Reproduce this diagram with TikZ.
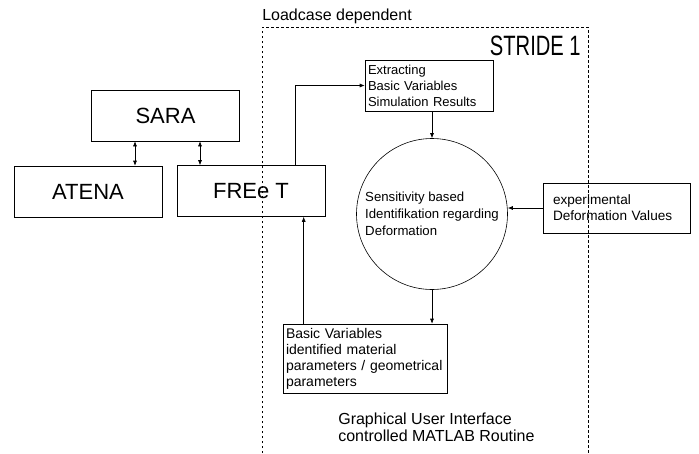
\documentclass[tikz,border=0pt]{standalone}
\usepackage{fontspec}
\setmainfont{Liberation Sans}
\usetikzlibrary{arrows.meta}

\tikzset{
  arr/.style={-{Latex[length=5pt,width=4pt]}},
  dbl/.style={{Latex[length=5pt,width=4pt]}-{Latex[length=5pt,width=4pt]}},
}

\begin{document}
\begin{tikzpicture}[x=1pt,y=-1pt,line width=0.6pt]
      \useasboundingbox (0,0) rectangle (699,453);

      % loadcase frame
      \draw[dash pattern=on 2.5pt off 2.5pt] (262,453) -- (262,27) -- (588,27) -- (588,453);

      \begin{scope}[every node/.style={draw, minimum height=51pt, minimum width=148pt, font=\fontsize{22}{26}\selectfont}]
        \node (SARA)  at (165.5,115.5) {SARA};
        \node (ATENA) at (88,191.5)    {ATENA};
        \node (FREeT) at (251,191)     {FREe T};
      \end{scope}

      \begin{scope}[every node/.style={draw, align=left, inner xsep=3pt}]
        \node[text width=122pt, minimum height=51pt, font=\fontsize{13}{16}\selectfont] (Extr) at (429,85.5)
          {Extracting\\Basic Variables\\Simulation Results};
        \node[text width=158pt, minimum height=69pt, font=\fontsize{14}{16}\selectfont] (Basic) at (365,358.5)
          {Basic Variables\\identified material\\parameters / geometrical\\parameters};
        \node[text width=127pt, inner xsep=10pt, minimum height=50pt, font=\fontsize{13.6}{16}\selectfont] (Exp) at (616.5,208)
          {experimental\\Deformation Values};
      \end{scope}

      \node[circle, draw, minimum size=151pt, align=left, font=\fontsize{13.2}{17}\selectfont] (Circ) at (432,214)
        {Sensitivity based\\Identifikation regarding\\Deformation};

      \begin{scope}[every node/.style={inner sep=0pt}]
        \node[anchor=base west, font=\fontsize{16}{18}\selectfont] (load) at (262,20) {Loadcase dependent};
        \node[anchor=base east, font=\fontsize{28}{30}\selectfont] (stride) at (581,55) {\scalebox{0.72}[1]{STRIDE 1}};
        \node[anchor=north west, align=left, font=\fontsize{16}{17}\selectfont] (gui) at (338,413)
          {Graphical User Interface\\controlled MATLAB Routine};
      \end{scope}

      \draw[dbl] ([xshift=-30.5pt]SARA.south) -- ([xshift=-30.5pt]SARA.south |- ATENA.north);
      \draw[dbl] ([xshift=34.5pt]SARA.south) -- ([xshift=34.5pt]SARA.south |- FREeT.north);
      \draw[arr] ([xshift=44pt]FREeT.north) |- (Extr.west);
      \draw[arr] (Circ.north |- Extr.south) -- (Circ.north);
      \draw[arr] (Exp.west) -- (Circ.east |- Exp.west);
      \draw[arr] (Circ.south) -- (Circ.south |- Basic.north);
      \draw[arr] ([xshift=21pt]Basic.north west) -- ([xshift=21pt]Basic.north west |- FREeT.south);

    \end{tikzpicture}
\end{document}
